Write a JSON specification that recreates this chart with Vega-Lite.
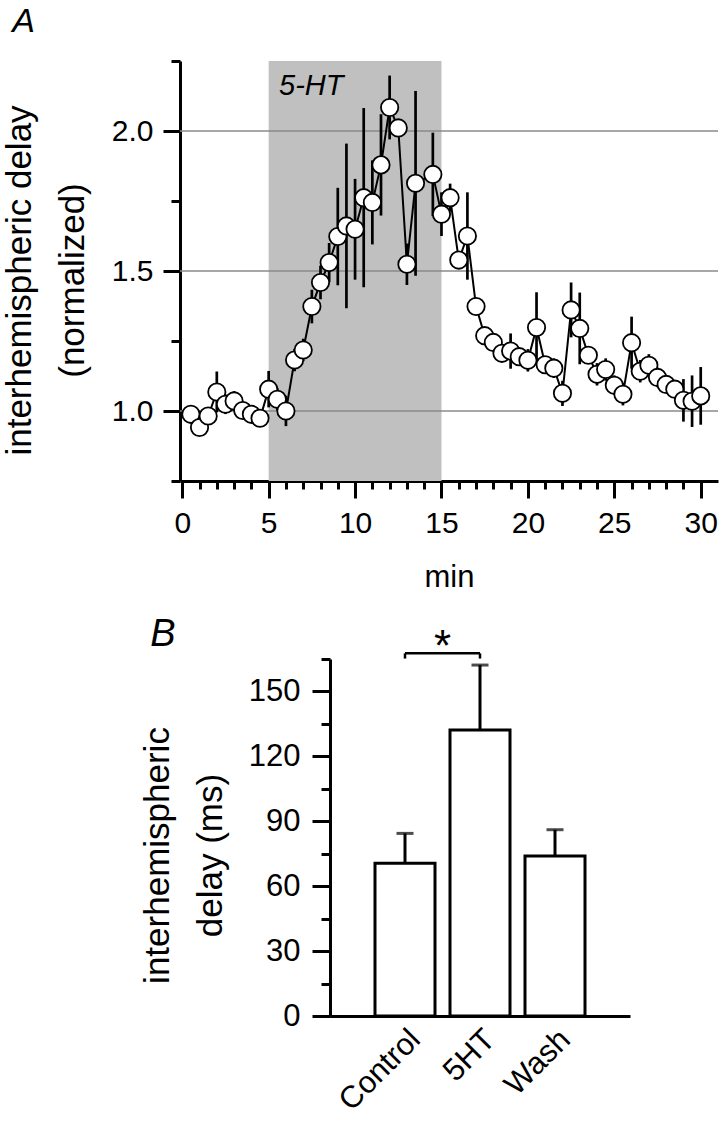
{
  "$schema": "https://vega.github.io/schema/vega-lite/v6.json",
  "background": "white",
  "padding": {"left": 2, "top": 4, "right": 0, "bottom": 0},
  "config": {
    "view": {"stroke": null},
    "font": "Liberation Sans",
    "axis": {
      "labelFont": "Liberation Sans", "titleFont": "Liberation Sans",
      "labelColor": "black", "titleColor": "black",
      "domainColor": "black", "tickColor": "black",
      "labelFontSize": 30, "titleFontSize": 35, "titleFontWeight": "normal",
      "domainWidth": 3, "tickWidth": 3, "grid": false
    },
    "title": {"font": "Liberation Sans", "fontWeight": "normal", "fontStyle": "italic", "color": "black", "anchor": "start", "frame": "bounds"}
  },
  "datasets": {
    "a": [
      {"t": 0.5, "v": 0.988, "lo": 0.963, "hi": 1.013},
      {"t": 1, "v": 0.941, "lo": 0.916, "hi": 0.966},
      {"t": 1.5, "v": 0.982, "lo": 0.962, "hi": 1.002},
      {"t": 2, "v": 1.068, "lo": 0.995, "hi": 1.141},
      {"t": 2.5, "v": 1.024, "lo": 0.989, "hi": 1.059},
      {"t": 3, "v": 1.036, "lo": 1.001, "hi": 1.071},
      {"t": 3.5, "v": 1.002, "lo": 0.972, "hi": 1.032},
      {"t": 4, "v": 0.988, "lo": 0.958, "hi": 1.018},
      {"t": 4.5, "v": 0.974, "lo": 0.954, "hi": 0.994},
      {"t": 5, "v": 1.078, "lo": 1.013, "hi": 1.143},
      {"t": 5.5, "v": 1.042, "lo": 1.002, "hi": 1.082},
      {"t": 6, "v": 1.0, "lo": 0.946, "hi": 1.054},
      {"t": 6.5, "v": 1.182, "lo": 1.142, "hi": 1.222},
      {"t": 7, "v": 1.218, "lo": 1.178, "hi": 1.258},
      {"t": 7.5, "v": 1.373, "lo": 1.313, "hi": 1.433},
      {"t": 8, "v": 1.459, "lo": 1.399, "hi": 1.519},
      {"t": 8.5, "v": 1.53, "lo": 1.46, "hi": 1.6},
      {"t": 9, "v": 1.623, "lo": 1.449, "hi": 1.797},
      {"t": 9.5, "v": 1.661, "lo": 1.367, "hi": 1.955},
      {"t": 10, "v": 1.649, "lo": 1.469, "hi": 1.829},
      {"t": 10.5, "v": 1.762, "lo": 1.442, "hi": 2.082},
      {"t": 11, "v": 1.745, "lo": 1.595, "hi": 1.895},
      {"t": 11.5, "v": 1.879, "lo": 1.698, "hi": 2.06},
      {"t": 12, "v": 2.084, "lo": 1.97, "hi": 2.198},
      {"t": 12.5, "v": 2.011, "lo": 1.981, "hi": 2.041},
      {"t": 13, "v": 1.524, "lo": 1.45, "hi": 1.598},
      {"t": 13.5, "v": 1.813, "lo": 1.483, "hi": 2.143},
      {"t": 14.5, "v": 1.845, "lo": 1.696, "hi": 1.994},
      {"t": 15, "v": 1.703, "lo": 1.625, "hi": 1.781},
      {"t": 15.5, "v": 1.762, "lo": 1.712, "hi": 1.812},
      {"t": 16, "v": 1.539, "lo": 1.509, "hi": 1.569},
      {"t": 16.5, "v": 1.625, "lo": 1.469, "hi": 1.781},
      {"t": 17, "v": 1.373, "lo": 1.343, "hi": 1.403},
      {"t": 17.5, "v": 1.269, "lo": 1.239, "hi": 1.299},
      {"t": 18, "v": 1.245, "lo": 1.215, "hi": 1.275},
      {"t": 18.5, "v": 1.206, "lo": 1.176, "hi": 1.236},
      {"t": 19, "v": 1.214, "lo": 1.151, "hi": 1.277},
      {"t": 19.5, "v": 1.194, "lo": 1.164, "hi": 1.224},
      {"t": 20, "v": 1.181, "lo": 1.141, "hi": 1.221},
      {"t": 20.5, "v": 1.298, "lo": 1.172, "hi": 1.424},
      {"t": 21, "v": 1.165, "lo": 1.135, "hi": 1.195},
      {"t": 21.5, "v": 1.153, "lo": 1.118, "hi": 1.188},
      {"t": 22, "v": 1.063, "lo": 1.018, "hi": 1.108},
      {"t": 22.5, "v": 1.361, "lo": 1.263, "hi": 1.459},
      {"t": 23, "v": 1.295, "lo": 1.167, "hi": 1.423},
      {"t": 23.5, "v": 1.199, "lo": 1.169, "hi": 1.229},
      {"t": 24, "v": 1.131, "lo": 1.091, "hi": 1.171},
      {"t": 24.5, "v": 1.148, "lo": 1.108, "hi": 1.188},
      {"t": 25, "v": 1.092, "lo": 1.057, "hi": 1.127},
      {"t": 25.5, "v": 1.06, "lo": 1.02, "hi": 1.1},
      {"t": 26, "v": 1.244, "lo": 1.151, "hi": 1.337},
      {"t": 26.5, "v": 1.142, "lo": 1.102, "hi": 1.182},
      {"t": 27, "v": 1.163, "lo": 1.123, "hi": 1.203},
      {"t": 27.5, "v": 1.12, "lo": 1.085, "hi": 1.155},
      {"t": 28, "v": 1.095, "lo": 1.065, "hi": 1.125},
      {"t": 28.5, "v": 1.078, "lo": 1.048, "hi": 1.108},
      {"t": 29, "v": 1.038, "lo": 0.962, "hi": 1.114},
      {"t": 29.5, "v": 1.035, "lo": 0.943, "hi": 1.127},
      {"t": 30, "v": 1.054, "lo": 0.951, "hi": 1.157}
    ],
    "b": [
      {"g": "Control", "m": 70.6, "se": 84.4},
      {"g": "5HT", "m": 132.2, "se": 162.2},
      {"g": "Wash", "m": 74.0, "se": 86.1}
    ]
  },
  "bounds": "flush",
  "spacing": 178,
  "vconcat": [
    {
      "width": 538,
      "height": 420,
      "title": {"text": "A", "fontSize": 34, "offset": 21, "dx": 10},
      "layer": [
        {
          "data": {"values": [{"start": 5, "end": 15}]},
          "mark": {"type": "rect", "color": "#c0c0c0"},
          "encoding": {
            "x": {"field": "start", "type": "quantitative",
                  "scale": {"domain": [-0.13, 31], "nice": false, "zero": false},
                  "axis": {"orient": "bottom", "values": [0,1,2,3,4,5,6,7,8,9,10,11,12,13,14,15,16,17,18,19,20,21,22,23,24,25,26,27,28,29,30], "tickSize": 8, "labels": false, "domain": false, "title": null}},
            "x2": {"field": "end"}
          }
        },
        {
          "data": {"values": [{"g": 1}, {"g": 1.5}, {"g": 2}]},
          "mark": {"type": "rule", "color": "#8a8a8a", "strokeWidth": 1.5},
          "encoding": {
            "y": {"field": "g", "type": "quantitative",
                  "scale": {"domain": [0.75, 2.25], "nice": false, "zero": false},
                  "axis": {"orient": "left", "values": [0.75, 1, 1.25, 1.5, 1.75, 2, 2.25], "tickSize": 9, "labels": false, "domain": false, "title": null}}
          }
        },
        {
          "data": {"name": "a"},
          "mark": {"type": "line", "color": "black", "strokeWidth": 2},
          "encoding": {
            "x": {"field": "t", "type": "quantitative",
                  "axis": {"orient": "bottom", "values": [0, 5, 10, 15, 20, 25, 30], "tickSize": 17, "labelPadding": 10, "title": "min", "titleFontSize": 31, "titlePadding": 24}},
            "y": {"field": "v", "type": "quantitative",
                  "axis": {"orient": "left", "values": [1, 1.5, 2], "format": ".1f", "tickSize": 17, "labelPadding": 10,
                           "title": ["interhemispheric delay", "(normalized)"], "titlePadding": 21, "titleLineHeight": 53, "titleY": 219}}
          }
        },
        {
          "data": {"name": "a"},
          "mark": {"type": "rule", "color": "black", "strokeWidth": 2.7},
          "encoding": {
            "x": {"field": "t", "type": "quantitative", "axis": null},
            "y": {"field": "lo", "type": "quantitative", "axis": null},
            "y2": {"field": "hi"}
          }
        },
        {
          "data": {"name": "a"},
          "mark": {"type": "point", "shape": "circle", "filled": true, "fill": "white", "stroke": "black", "strokeWidth": 1.8, "size": 300, "opacity": 1},
          "encoding": {
            "x": {"field": "t", "type": "quantitative", "axis": null},
            "y": {"field": "v", "type": "quantitative", "axis": null}
          }
        },
        {
          "data": {"values": [{"label": "5-HT", "t": 5.6, "v": 2.13}]},
          "mark": {"type": "text", "align": "left", "baseline": "alphabetic", "fontSize": 29, "fontStyle": "italic", "color": "black"},
          "encoding": {
            "x": {"field": "t", "type": "quantitative", "axis": null},
            "y": {"field": "v", "type": "quantitative", "axis": null},
            "text": {"field": "label"}
          }
        }
      ],
      "resolve": {"axis": {"x": "independent", "y": "independent"}}
    },
    {
      "spacing": 0,
      "bounds": "flush",
      "hconcat": [
        {
          "width": 150,
          "height": 10,
          "data": {"values": []},
          "mark": "point",
          "view": {"stroke": null}
        },
        {
          "width": 300,
          "height": 357,
          "title": {"text": "B", "fontSize": 38, "offset": -28, "dx": 10},
          "data": {"name": "b"},
          "layer": [
            {
              "mark": {"type": "bar", "fill": "white", "stroke": "black", "strokeWidth": 3},
              "encoding": {
                "x": {"field": "g", "type": "nominal",
                      "scale": {"domain": ["Control", "5HT", "Wash"], "paddingInner": 0.2, "paddingOuter": 0.6},
                      "axis": {"labelAngle": -45, "ticks": false, "title": null, "labelPadding": 8, "labelFontSize": 31}},
                "y": {"field": "m", "type": "quantitative",
                      "scale": {"domain": [0, 165], "nice": false, "zero": true},
                      "axis": {"orient": "left", "values": [0, 30, 60, 90, 120, 150], "tickSize": 18, "labelPadding": 12, "labelFontSize": 31,
                               "title": ["interhemispheric", "delay (ms)"], "titlePadding": 20, "titleLineHeight": 53, "titleY": 196}}
              }
            },
            {
              "mark": {"type": "rule", "color": "black", "strokeWidth": 3},
              "encoding": {
                "x": {"field": "g", "type": "nominal", "axis": null},
                "y": {"field": "m", "type": "quantitative",
                      "axis": {"orient": "left", "values": [0, 15, 30, 45, 60, 75, 90, 105, 120, 135, 150, 165], "tickSize": 9, "labels": false, "domain": false, "title": null}},
                "y2": {"field": "se"}
              }
            },
            {
              "mark": {"type": "tick", "color": "black", "thickness": 3, "size": 17},
              "encoding": {
                "x": {"field": "g", "type": "nominal", "axis": null},
                "y": {"field": "se", "type": "quantitative", "axis": null}
              }
            },
            {
              "data": {"values": [{"a": "Control", "b": "5HT", "y": 167.6}]},
              "mark": {"type": "rule", "color": "black", "strokeWidth": 2.5},
              "encoding": {
                "x": {"field": "a", "type": "nominal", "axis": null},
                "x2": {"field": "b"},
                "y": {"field": "y", "type": "quantitative", "axis": null}
              }
            },
            {
              "data": {"values": [{"g": "Control", "y1": 165.2, "y2": 167.6}, {"g": "5HT", "y1": 165.2, "y2": 167.6}]},
              "mark": {"type": "rule", "color": "black", "strokeWidth": 2.5},
              "encoding": {
                "x": {"field": "g", "type": "nominal", "axis": null},
                "y": {"field": "y1", "type": "quantitative", "axis": null},
                "y2": {"field": "y2"}
              }
            },
            {
              "data": {"values": [{"g": "Control", "y": 164, "label": "*"}]},
              "mark": {"type": "text", "fontSize": 44, "baseline": "alphabetic", "align": "center", "color": "black"},
              "encoding": {
                "x": {"field": "g", "type": "nominal", "bandPosition": 1.125, "axis": null},
                "y": {"field": "y", "type": "quantitative", "axis": null},
                "text": {"field": "label"}
              }
            }
          ],
          "resolve": {"axis": {"x": "independent", "y": "independent"}}
        }
      ]
    }
  ]
}
